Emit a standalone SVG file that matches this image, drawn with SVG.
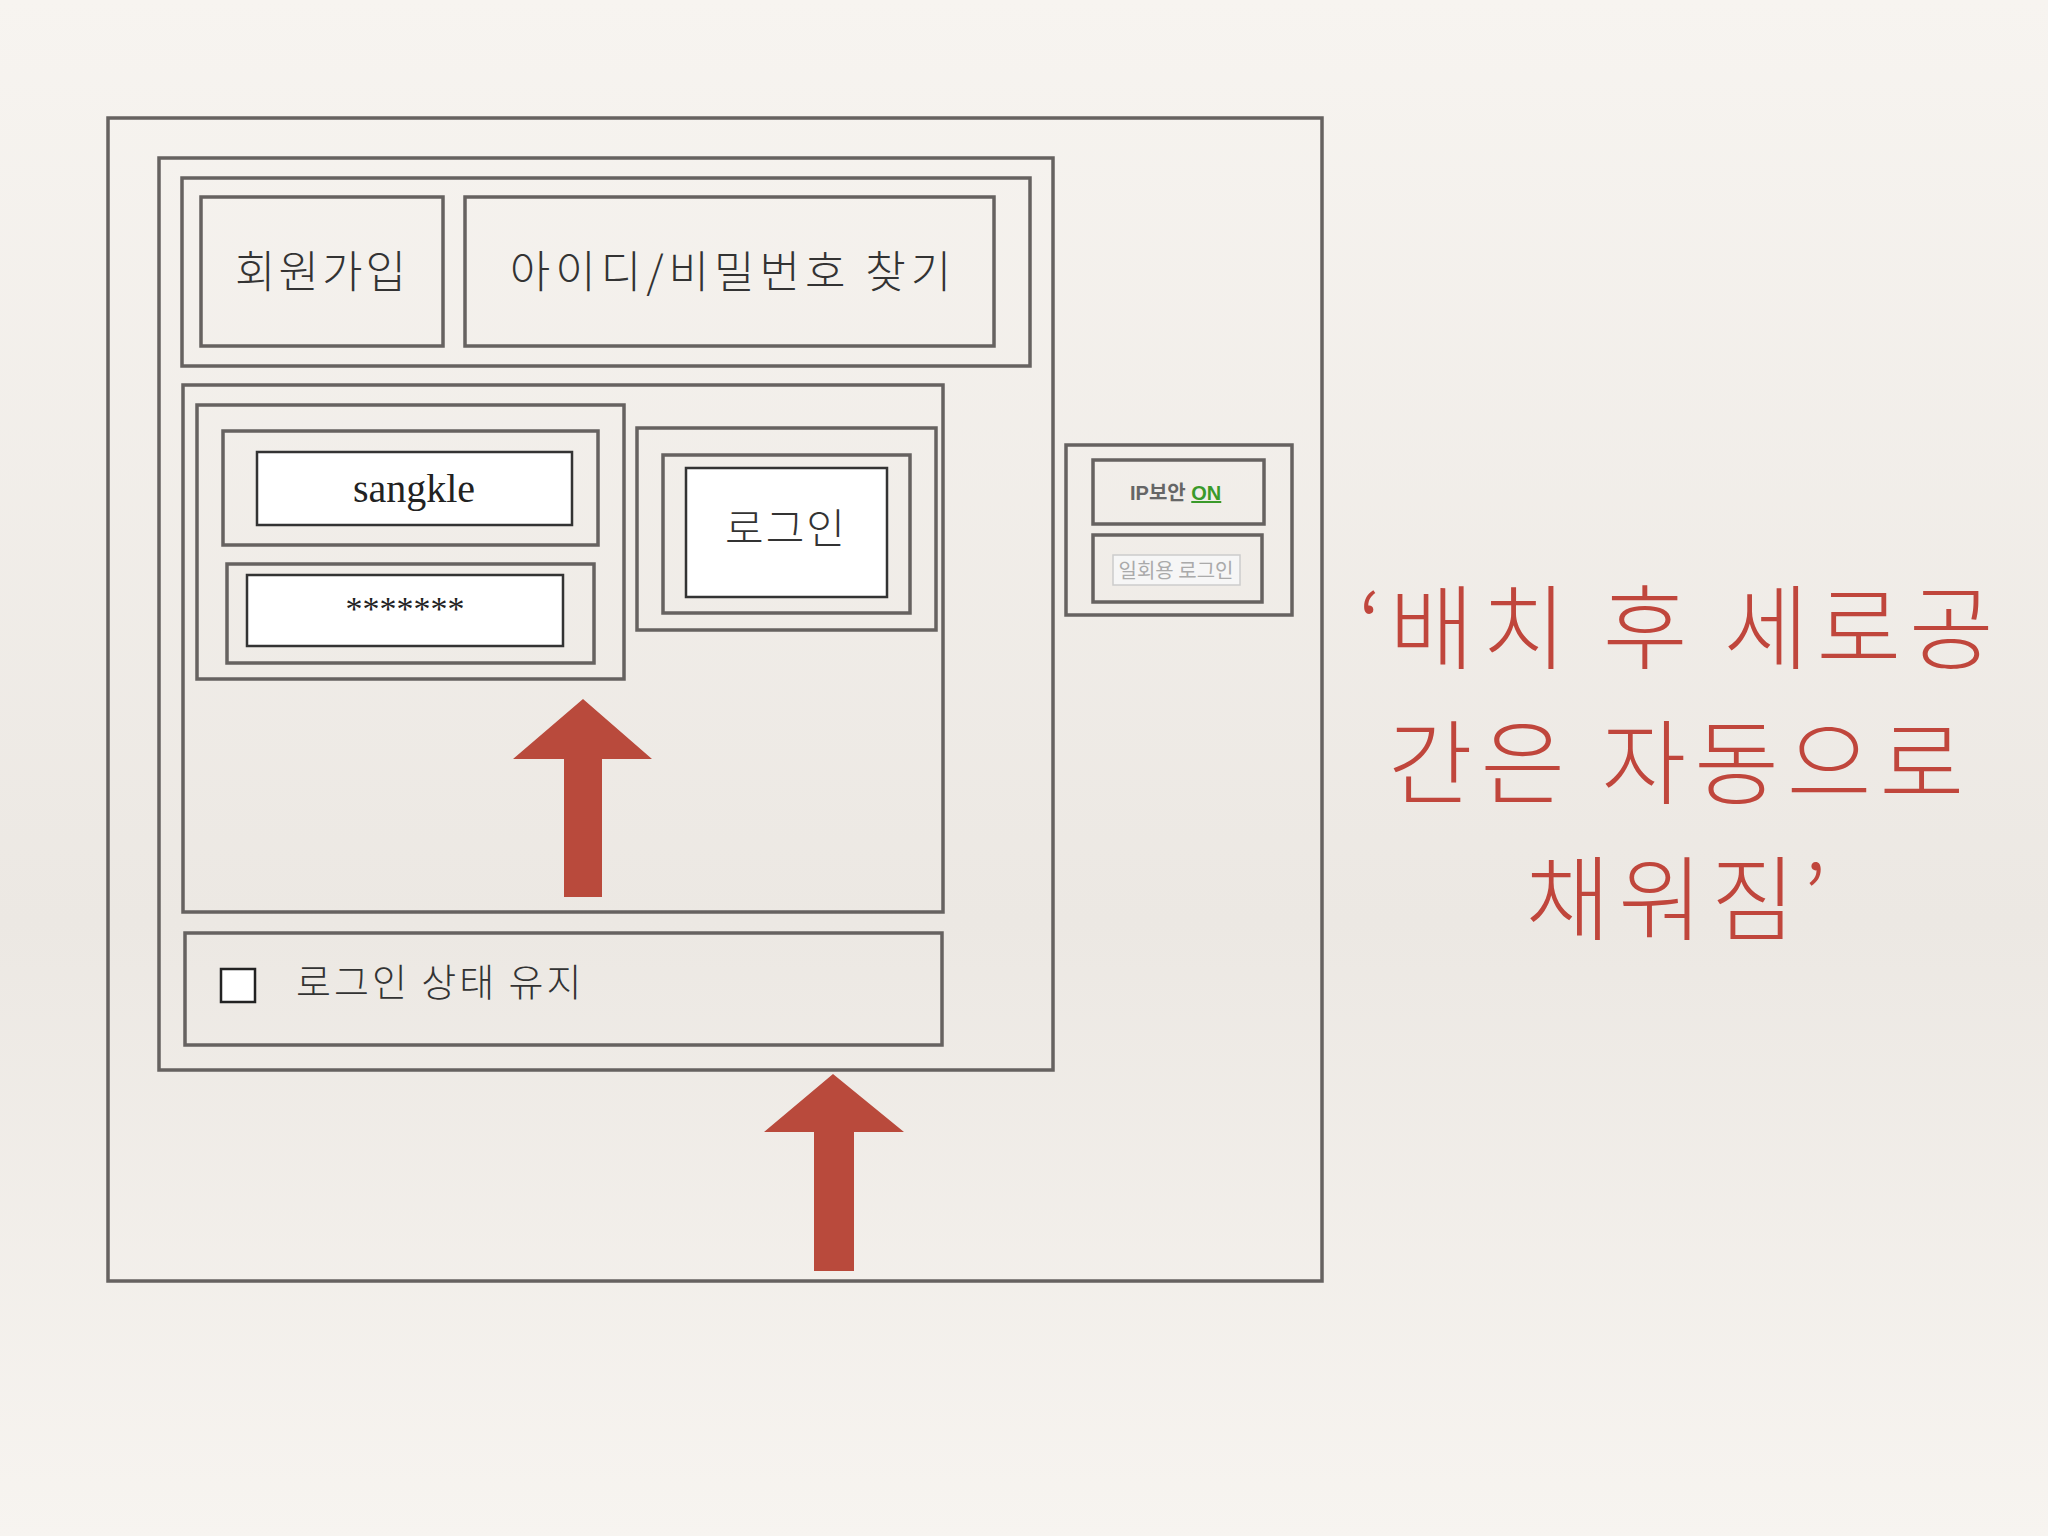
<svg xmlns="http://www.w3.org/2000/svg" width="2048" height="1536" viewBox="0 0 2048 1536">
<defs>
<linearGradient id="bg" x1="0" y1="0" x2="0" y2="1">
<stop offset="0" stop-color="#f7f4f0"/><stop offset="0.6" stop-color="#ece8e3"/><stop offset="1" stop-color="#f7f4f0"/>
</linearGradient>
<style>
.b{fill:none;stroke:#666260;stroke-width:3.5}
.w{fill:#fff;stroke:#333;stroke-width:2.5}
.t{font-family:"Noto Sans CJK KR",sans-serif;fill:#333;font-weight:300}
.s{font-family:"Liberation Serif",serif;fill:#222}
.r{font-family:"Noto Sans CJK KR",sans-serif;fill:#c0463c;font-size:92px;font-weight:300;text-anchor:middle;letter-spacing:8px}
.a{fill:#b94a3c}
</style>
</defs>
<rect width="2048" height="1536" fill="url(#bg)"/>
<g id="outer"><rect class="b" x="108" y="118" width="1214" height="1163"/></g>
<g id="panel"><rect class="b" x="159" y="158" width="894" height="912"/></g>
<g id="topbar"><rect class="b" x="182" y="178" width="848" height="188"/></g>
<g id="join"><rect class="b" x="201" y="197" width="242" height="149"/><text class="t" x="322" y="288" font-size="44" letter-spacing="3" text-anchor="middle">회원가입</text></g>
<g id="find"><rect class="b" x="465" y="197" width="529" height="149"/><text class="t" x="733" y="288" font-size="44" letter-spacing="5" text-anchor="middle">아이디/비밀번호 찾기</text></g>
<g id="middle"><rect class="b" x="183" y="385" width="760" height="527"/></g>
<g id="inputs"><rect class="b" x="197" y="405" width="427" height="274"/></g>
<g id="idfield"><rect class="b" x="223" y="431" width="375" height="114"/><rect class="w" x="257" y="452" width="315" height="73"/><text class="s" x="414" y="502" font-size="40" text-anchor="middle">sangkle</text></g>
<g id="pwfield"><rect class="b" x="227" y="564" width="367" height="99"/><rect class="w" x="247" y="575" width="316" height="71"/><text class="s" x="405" y="620" font-size="34" text-anchor="middle">*******</text></g>
<g id="login"><rect class="b" x="637" y="428" width="299" height="202"/><rect class="b" x="663" y="455" width="247" height="158"/><rect class="w" x="686" y="468" width="201" height="129"/><text class="t" x="786" y="544" font-size="42" letter-spacing="2" text-anchor="middle">로그인</text></g>
<g id="keep"><rect class="b" x="185" y="933" width="757" height="112"/><rect fill="#fff" stroke="#222" stroke-width="2.5" x="221" y="969" width="34" height="33"/><text class="t" x="296" y="996" font-size="38" letter-spacing="3">로그인 상태 유지</text></g>
<g id="ipbox"><rect class="b" x="1066" y="445" width="226" height="170"/>
<rect class="b" x="1093" y="460" width="171" height="64"/><text x="1130" y="500" font-family="Liberation Sans,'Noto Sans CJK KR',sans-serif" font-size="20" font-weight="bold" fill="#666">IP보안 <tspan fill="#3a9a2a" text-decoration="underline">ON</tspan></text>
<rect class="b" x="1093" y="535" width="169" height="67"/><rect x="1113" y="555" width="127" height="30" fill="#f6f6f6" stroke="#ccc" stroke-width="1.5"/><text x="1176" y="578" font-family="'Noto Sans CJK KR',sans-serif" font-size="20" fill="#aaa" text-anchor="middle">일회용 로그인</text></g>
<g id="connectors">
<polygon class="a" points="583,699 652,759 602,759 602,897 564,897 564,759 513,759"/>
<polygon class="a" points="833,1074 904,1132 854,1132 854,1271 814,1271 814,1132 764,1132"/>
</g>
<g id="note">
<text class="r" x="1680" y="662">‘배치 후 세로공</text>
<text class="r" x="1680" y="797">간은 자동으로</text>
<text class="r" x="1680" y="933">채워짐’</text>
</g>
</svg>
